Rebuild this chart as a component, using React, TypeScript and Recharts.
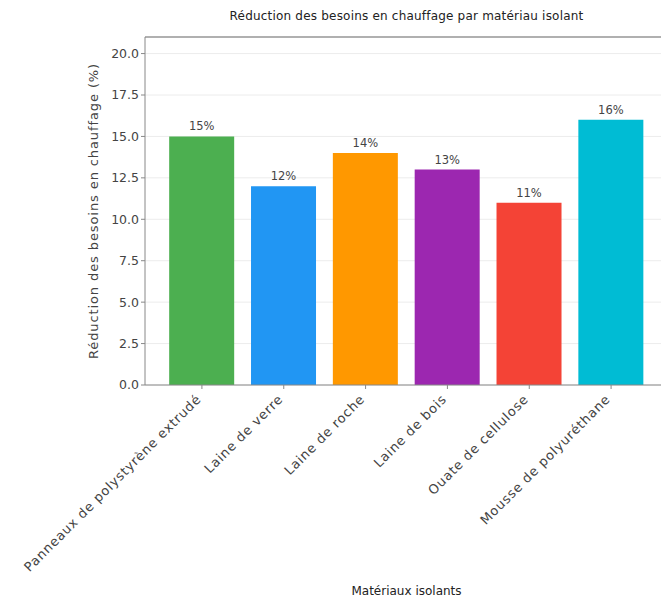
import { BarChart, Bar, XAxis, YAxis, CartesianGrid, Cell, LabelList, ReferenceLine } from "recharts";

const materials = [
  "Panneaux de polystyrène extrudé",
  "Laine de verre",
  "Laine de roche",
  "Laine de bois",
  "Ouate de cellulose",
  "Mousse de polyuréthane",
];
const reductions = [15, 12, 14, 13, 11, 16];
const barColors = ["#4CAF50", "#2196F3", "#FF9800", "#9C27B0", "#F44336", "#00BCD4"];
const yTicks = [0, 2.5, 5, 7.5, 10, 12.5, 15, 17.5, 20];

const data = materials.map((name, i) => ({ name, value: reductions[i] }));

const FONT = "'DejaVu Sans', sans-serif";

// rotated category label, right end pinned under its tick
function RotatedTick(props: any) {
  const { x, y, payload } = props;
  return (
    <g transform={`translate(${x},${y + 9})`}>
      <text
        textAnchor="end"
        transform="rotate(-45)"
        fill="#444"
        fontSize={13}
        fontFamily={FONT}
        letterSpacing={0.8}
      >
        {payload.value}
      </text>
    </g>
  );
}

export default function App() {
  return (
    <div
      style={{
        position: "fixed",
        left: 0,
        top: 0,
        width: 661,
        height: 603,
        overflow: "hidden",
        background: "#fff",
        fontFamily: FONT,
      }}
    >
      <div
        style={{
          position: "absolute",
          left: 145,
          width: 523,
          top: 9,
          textAlign: "center",
          fontSize: 12,
          letterSpacing: 0.2,
          color: "#222",
          whiteSpace: "nowrap",
        }}
      >
        Réduction des besoins en chauffage par matériau isolant
      </div>
      <BarChart
        width={700}
        height={603}
        data={data}
        margin={{ top: 37, right: 32, left: 41, bottom: 0 }}
        barCategoryGap="10%"
      >
        <CartesianGrid stroke="#ececec" vertical={false} />
        <XAxis
          dataKey="name"
          interval={0}
          height={218}
          padding={{ left: 16, right: 16 }}
          stroke="#888"
          tickSize={4}
          tick={<RotatedTick />}
        />
        <YAxis
          width={104}
          domain={[0, 21]}
          ticks={yTicks}
          stroke="#888"
          tickSize={4}
          tickFormatter={(v: number) => v.toFixed(1)}
          tick={{ fill: "#444", fontSize: 12.5, fontFamily: FONT }}
          label={{
            value: "Réduction des besoins en chauffage (%)",
            angle: -90,
            position: "center",
            fill: "#444",
            fontSize: 13,
            letterSpacing: 0.9,
            fontFamily: FONT,
          }}
        />
        <ReferenceLine y={21} stroke="#999" strokeWidth={1.5} />
        <Bar dataKey="value" isAnimationActive={false}>
          {data.map((d, i) => (
            <Cell key={d.name} fill={barColors[i]} />
          ))}
          <LabelList
            dataKey="value"
            position="top"
            offset={6}
            formatter={(v: any) => `${v}%`}
            fill="#444"
            fontSize={11.5}
            fontFamily={FONT}
          />
        </Bar>
      </BarChart>
      <div
        style={{
          position: "absolute",
          left: 145,
          width: 523,
          top: 584,
          textAlign: "center",
          fontSize: 12,
          color: "#222",
          whiteSpace: "nowrap",
        }}
      >
        Matériaux isolants
      </div>
    </div>
  );
}
